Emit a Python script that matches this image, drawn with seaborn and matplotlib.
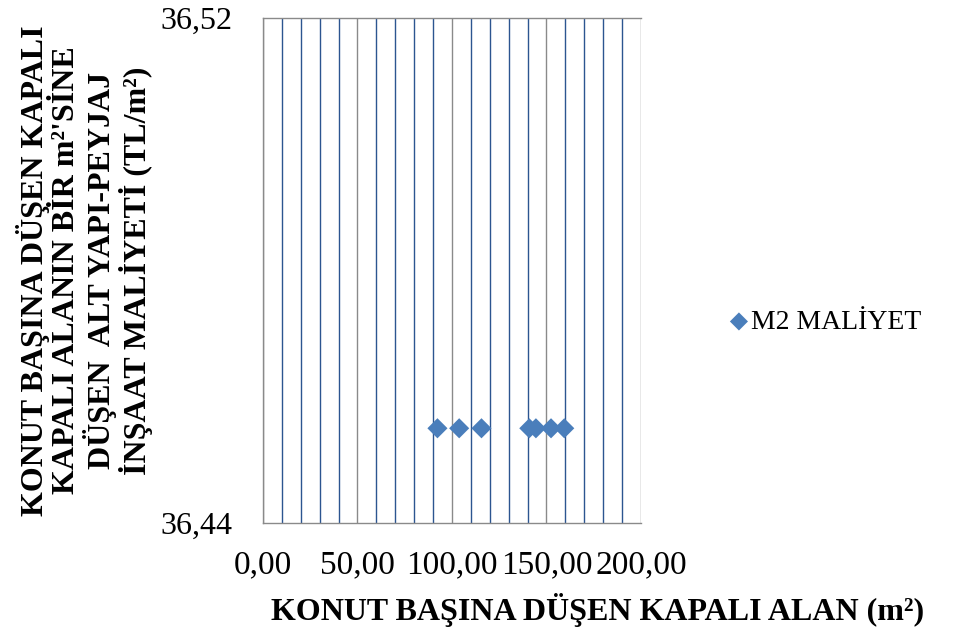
import matplotlib
matplotlib.use("Agg")
import matplotlib.pyplot as plt
import seaborn as sns
import pandas as pd
from matplotlib.ticker import FixedLocator, MultipleLocator, FuncFormatter

# Kapalı alan (m²) ve m² başına altyapı-peyzaj maliyeti (TL/m²)
kapali_alan = [92.3, 103.8, 115.6, 140.9, 144.4, 152.4, 159.4]
m2_maliyet = [36.455, 36.455, 36.455, 36.455, 36.455, 36.455, 36.455]
seri_adi = "M2 MALİYET"

x_ticks = [0, 50, 100, 150, 200]
y_ticks = [36.44, 36.52]

sns.set_theme(style="white")
plt.rcParams["font.family"] = ["Liberation Serif", "DejaVu Serif"]
plt.rcParams["text.color"] = "black"
plt.rcParams["axes.labelcolor"] = "black"

fig = plt.figure(figsize=(9.57, 6.27), dpi=100)
ax = fig.add_axes([0.2748, 0.166, 0.3950, 0.805])

df = pd.DataFrame({"alan": kapali_alan, "maliyet": m2_maliyet})
sns.scatterplot(data=df, x="alan", y="maliyet", marker="D", s=105,
                color="#4a7ebb", edgecolor="none", label=seri_adi, ax=ax,
                zorder=5)

ax.set_xlim(0, 200)
ax.set_ylim(36.44, 36.52)
ax.xaxis.set_major_locator(FixedLocator(x_ticks))
ax.xaxis.set_minor_locator(MultipleLocator(10))
ax.yaxis.set_major_locator(FixedLocator(y_ticks))

fmt = FuncFormatter(lambda v, p: f"{v:.2f}".replace(".", ","))
ax.xaxis.set_major_formatter(fmt)
ax.yaxis.set_major_formatter(fmt)

ax.grid(False)
ax.grid(True, which="minor", axis="x", color="#2c5590", linewidth=1.0, zorder=1)
ax.grid(True, which="major", axis="x", color="#8a8a8a", linewidth=1.0, zorder=1)
ax.set_axisbelow(True)

for side in ["left", "bottom", "top"]:
    ax.spines[side].set_visible(True)
    ax.spines[side].set_color("#8a8a8a")
    ax.spines[side].set_linewidth(1.0)
ax.spines["right"].set_visible(False)

ax.tick_params(axis="both", which="major", direction="out", width=1.0,
               color="#8a8a8a", labelcolor="black")
ax.tick_params(axis="x", which="major", length=7, pad=12, labelsize=24)
ax.tick_params(axis="y", which="major", length=9, pad=13, labelsize=23)
ax.tick_params(axis="both", which="minor", length=0)

ax.set_xlabel("KONUT BAŞINA DÜŞEN KAPALI ALAN (m²)", fontsize=23,
              fontweight="bold")
ax.xaxis.set_label_coords(0.886, -0.138)
ax.set_ylabel("KONUT BAŞINA DÜŞEN KAPALI\nKAPALI ALANIN BİR m²'SİNE\n"
              "DÜŞEN  ALT YAPI-PEYJAJ\nİNŞAAT MALİYETİ (TL/m²)",
              fontsize=23, fontweight="bold", linespacing=1.08)
ax.yaxis.set_label_coords(-0.29, 0.50)

leg = ax.legend(loc="center left", bbox_to_anchor=(1.226, 0.398),
                frameon=False, fontsize=20, handletextpad=0.0,
                handlelength=0.9, borderaxespad=0, borderpad=0,
                markerscale=0.9)

fig.savefig("out.png", dpi=100)
